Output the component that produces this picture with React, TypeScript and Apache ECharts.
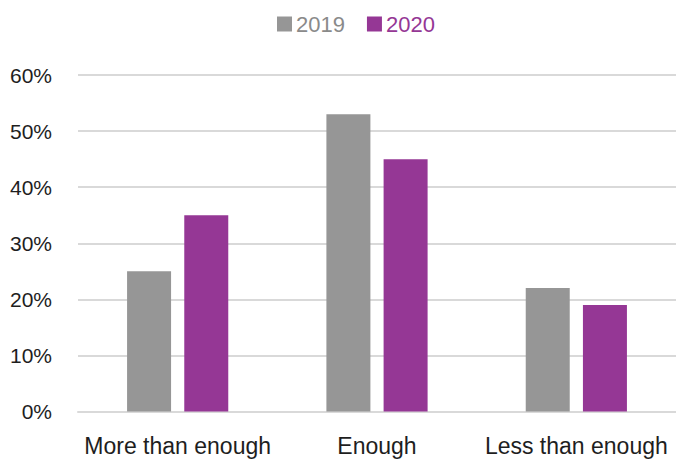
import React, { useEffect, useRef } from "react";
import * as echarts from "echarts";

const categories = ["More than enough", "Enough", "Less than enough"];
const values2019 = [25, 53, 22];
const values2020 = [35, 45, 19];
const seriesNames = ["2019", "2020"];
const yTicks = { min: 0, max: 60, interval: 10 };

const FONT = "'Liberation Sans', Arial, sans-serif";
const GRAY = "#969696";
const PURPLE = "#953795";

export default function App() {
  const ref = useRef<HTMLDivElement>(null);
  useEffect(() => {
    if (!ref.current) return;
    const chart = echarts.init(ref.current, null, { renderer: "svg" });
    chart.setOption({
      animation: false,
      backgroundColor: "#ffffff",
      legend: {
        top: 8,
        left: 272,
        itemWidth: 15,
        itemHeight: 15,
        itemGap: 22,
        icon: "rect",
        data: [
          { name: seriesNames[0], textStyle: { color: "#8a8a8a" } },
          { name: seriesNames[1], textStyle: { color: PURPLE } },
        ],
        textStyle: { fontFamily: FONT, fontSize: 22, padding: [0, 0, 0, -1] },
      },
      grid: { left: 78, top: 75, width: 600, bottom: 47.5, containLabel: false },
      xAxis: {
        type: "category",
        data: categories,
        axisLine: { show: true, lineStyle: { color: "#d9d9d9", width: 2 } },
        axisTick: { show: false },
        axisLabel: {
          color: "#1e1e1e",
          fontFamily: FONT,
          fontSize: 23,
          margin: 23,
          interval: 0,
          hideOverlap: false,
        },
      },
      yAxis: {
        type: "value",
        min: yTicks.min,
        max: yTicks.max,
        interval: yTicks.interval,
        axisLine: { show: false },
        axisTick: { show: false },
        splitLine: { lineStyle: { color: "#d9d9d9", width: 2 } },
        axisLabel: {
          color: "#1e1e1e",
          fontFamily: FONT,
          fontSize: 21,
          margin: 26,
          formatter: (v: number) => v + "%",
        },
      },
      series: [
        {
          name: seriesNames[0],
          type: "bar",
          data: values2019,
          barWidth: 44,
          barGap: "30%",
          itemStyle: { color: GRAY },
        },
        {
          name: seriesNames[1],
          type: "bar",
          data: values2020,
          barWidth: 44,
          barGap: "30%",
          itemStyle: { color: PURPLE },
        },
      ],
    });
    return () => chart.dispose();
  }, []);
  return (
    <div
      ref={ref}
      style={{ position: "fixed", left: 0, top: 0, width: 676, height: 459 }}
    />
  );
}
